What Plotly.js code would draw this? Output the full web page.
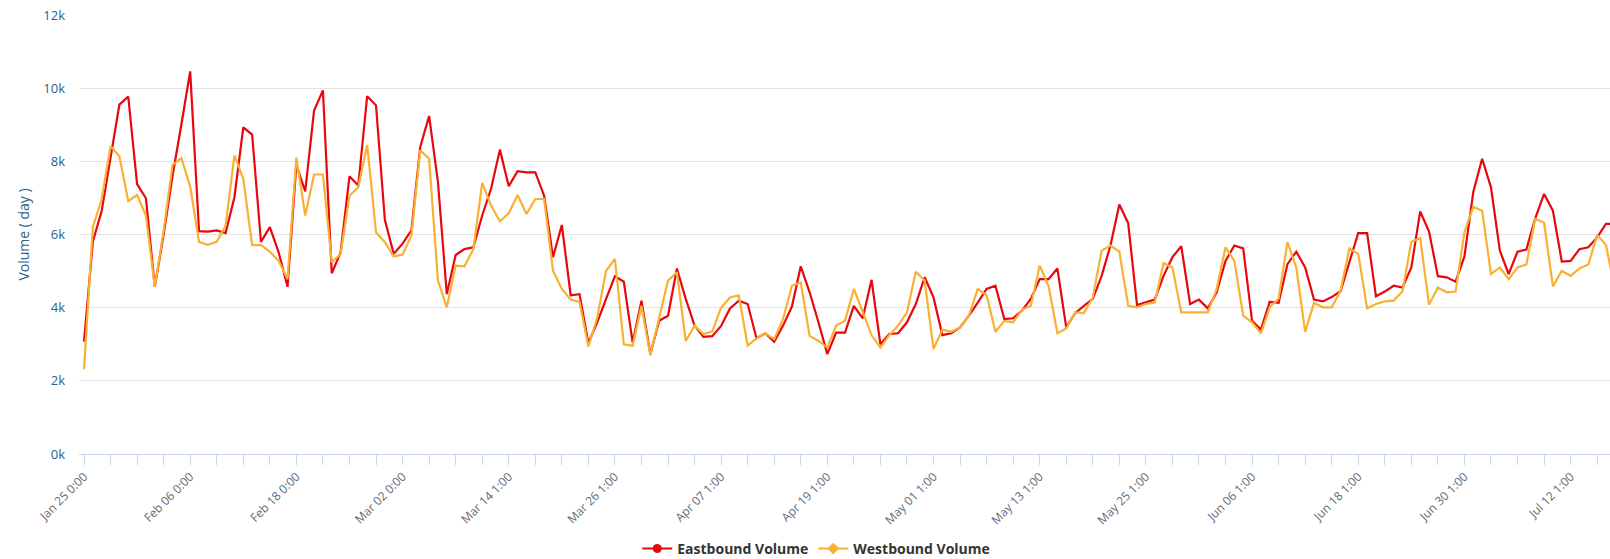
<!DOCTYPE html>
<html>
<head>
<meta charset="utf-8">
<script src="https://cdn.plot.ly/plotly-3.0.1.min.js"></script>
<style>
  html, body { margin: 0; padding: 0; background: #ffffff; }
  #chart { width: 1610px; height: 559px; }
</style>
</head>
<body>
<div id="chart"></div>
<script>
// First day of the daily series
const startDate = '2021-01-25';

// Eastbound daily volume (vehicles / day)
const eastbound = [
  3070, 5800, 6650, 8070, 9550, 9770, 7380, 6990, 4570, 6000,
  7600, 9000, 10460, 6090, 6080, 6110, 6040, 7020, 8930, 8730,
  5800, 6200, 5510, 4570, 7900, 7180, 9390, 9940, 4940, 5510,
  7590, 7340, 9780, 9530, 6400, 5470, 5750, 6110, 8390, 9240,
  7430, 4370, 5440, 5600, 5650, 6520, 7250, 8320, 7320, 7730,
  7700, 7700, 7060, 5380, 6260, 4340, 4370, 3030, 3600, 4240,
  4860, 4710, 3050, 4190, 2730, 3640, 3780, 5070, 4240, 3510,
  3200, 3220, 3500, 3980, 4190, 4100, 3160, 3300, 3070, 3510,
  4030, 5130, 4420, 3600, 2730, 3320, 3320, 4050, 3710, 4760,
  3000, 3280, 3300, 3600, 4100, 4830, 4280, 3250, 3300, 3460,
  3780, 4140, 4510, 4600, 3690, 3710, 3920, 4240, 4780, 4780,
  5070, 3460, 3850, 4050, 4240, 4870, 5700, 6820, 6310, 4070,
  4140, 4220, 4870, 5380, 5680, 4100, 4220, 3980, 4420, 5280,
  5700, 5620, 3640, 3400, 4160, 4130, 5190, 5530, 5100, 4220,
  4170, 4290, 4450, 5230, 6040, 6040, 4310, 4440, 4600, 4550,
  5100, 6630, 6080, 4860, 4830, 4710, 5400, 7160, 8070, 7290,
  5560, 4920, 5530, 5590, 6440, 7110, 6650, 5260, 5280, 5600,
  5650, 5920, 6290, 6290
];

// Westbound daily volume (vehicles / day)
const westbound = [
  2320, 6200, 6970, 8410, 8140, 6910, 7080, 6520, 4570, 6100,
  7900, 8090, 7310, 5800, 5720, 5800, 6240, 8160, 7520, 5710,
  5710, 5530, 5280, 4780, 8100, 6520, 7640, 7640, 5240, 5470,
  7060, 7290, 8450, 6060, 5790, 5400, 5450, 5970, 8300, 8070,
  4740, 4010, 5150, 5130, 5600, 7410, 6790, 6360, 6580, 7080,
  6560, 6970, 6970, 5010, 4510, 4220, 4160, 2940, 3730, 5010,
  5330, 3000, 2960, 4050, 2700, 3690, 4740, 4970, 3090, 3510,
  3280, 3350, 4000, 4280, 4340, 2960, 3160, 3300, 3140, 3690,
  4600, 4690, 3230, 3090, 2910, 3510, 3640, 4510, 3870, 3250,
  2910, 3250, 3510, 3870, 4980, 4740, 2870, 3400, 3340, 3460,
  3780, 4510, 4340, 3340, 3640, 3600, 3940, 4050, 5150, 4600,
  3300, 3430, 3870, 3850, 4280, 5560, 5700, 5530, 4050, 4010,
  4100, 4140, 5220, 5100, 3870, 3870, 3850, 3870, 4510, 5650,
  5280, 3780, 3600, 3300, 4010, 4250, 5790, 5100, 3340, 4130,
  4010, 4010, 4460, 5620, 5470, 3980, 4100, 4170, 4190, 4450,
  5800, 5900, 4080, 4550, 4420, 4440, 6060, 6760, 6650, 4920,
  5100, 4780, 5100, 5180, 6430, 6320, 4580, 5010, 4870, 5070,
  5180, 5990, 5710, 4500
];

// X tick labels (every 12 days) and y tick labels
const xTickText = [
  'Jan 25 0:00', 'Feb 06 0:00', 'Feb 18 0:00', 'Mar 02 0:00', 'Mar 14 1:00',
  'Mar 26 1:00', 'Apr 07 1:00', 'Apr 19 1:00', 'May 01 1:00', 'May 13 1:00',
  'May 25 1:00', 'Jun 06 1:00', 'Jun 18 1:00', 'Jun 30 1:00', 'Jul 12 1:00'
];
const yTickVals = [0, 2000, 4000, 6000, 8000, 10000, 12000];
const yTickText = ['0k', '2k', '4k', '6k', '8k', '10k', '12k'];

const seriesNames = ['Eastbound Volume', 'Westbound Volume'];

// ---- build daily date categories ----
const DAY = 86400000;
const t0 = Date.parse(startDate + 'T00:00:00Z');
function iso(ms) { return new Date(ms).toISOString().slice(0, 19).replace('T', ' '); }
const dates = eastbound.map((_, i) => iso(t0 + i * DAY));
const xTickVals = xTickText.map((_, k) => iso(t0 + k * 12 * DAY));

const RED = '#e8070f';
const YEL = '#f8b133';

const traces = [
  { x: dates, y: eastbound, type: 'scatter', mode: 'lines', name: seriesNames[0],
    line: { color: RED, width: 2.2 }, showlegend: false, hoverinfo: 'x+y' },
  { x: dates, y: westbound, type: 'scatter', mode: 'lines', name: seriesNames[1],
    line: { color: YEL, width: 2.2 }, showlegend: false, hoverinfo: 'x+y' },
  // legend entries
  { x: [null], y: [null], type: 'scatter', mode: 'lines+markers', name: seriesNames[0],
    line: { color: RED, width: 2 }, marker: { color: RED, size: 9, symbol: 'circle' } },
  { x: [null], y: [null], type: 'scatter', mode: 'lines+markers', name: seriesNames[1],
    line: { color: YEL, width: 2 }, marker: { color: YEL, size: 9, symbol: 'diamond' } }
];

const layout = {
  width: 1610, height: 559,
  margin: { l: 79, r: 0, t: 15, b: 105, pad: 0, autoexpand: false },
  paper_bgcolor: '#ffffff', plot_bgcolor: '#ffffff',
  font: { family: 'Open Sans, DejaVu Sans, sans-serif' },
  showlegend: true,
  legend: {
    orientation: 'h', xref: 'container', yref: 'container',
    x: 0.507, xanchor: 'center', y: 0.018, yanchor: 'middle',
    font: { size: 14, color: '#333333', family: 'Open Sans, DejaVu Sans, sans-serif', weight: 'bold' },
    itemwidth: 30, tracegroupgap: 0
  },
  xaxis: {
    type: 'date', automargin: false,
    range: [iso(t0 - 0.565 * DAY), iso(t0 + 172.45 * DAY)],
    tickmode: 'array', tickvals: xTickVals, ticktext: xTickText,
    tickangle: -45,
    tickfont: { size: 12, color: '#5f6b79' },
    ticks: 'outside', ticklen: 10, tickcolor: '#ccd6eb', tickwidth: 1,
    minor: { dtick: 3 * DAY, tick0: iso(t0), ticks: 'outside', ticklen: 10, tickcolor: '#ccd6eb', tickwidth: 1, showgrid: false },
    showline: true, linecolor: '#ccd6eb', linewidth: 1,
    showgrid: false, zeroline: false, fixedrange: true
  },
  yaxis: {
    range: [0, 12000], automargin: false,
    tickmode: 'array', tickvals: yTickVals, ticktext: yTickText,
    tickfont: { size: 13, color: '#2c6189' },
    ticklabelstandoff: 13,
    showgrid: true, gridcolor: '#e3e3e3', gridwidth: 1,
    zeroline: false, showline: false, ticks: '',
    title: { text: 'Volume ( day )', font: { size: 14, color: '#2c6189' }, standoff: 10 },
    fixedrange: true
  }
};

Plotly.newPlot('chart', traces, layout, { displayModeBar: false, staticPlot: true });
</script>
</body>
</html>
